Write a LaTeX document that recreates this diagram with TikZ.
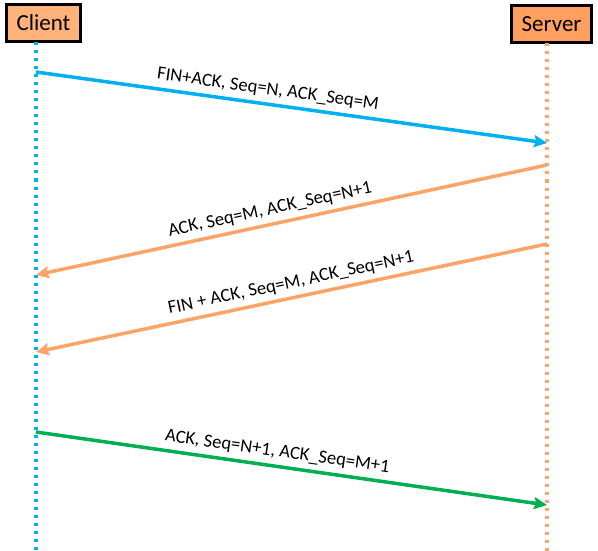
\documentclass[tikz,border=0pt]{standalone}
\usepackage{fontspec}
\setmainfont{Carlito}
\usetikzlibrary{arrows.meta}
\definecolor{cblue}{RGB}{0,176,240}
\definecolor{corange}{RGB}{255,164,102}
\definecolor{cgreen}{RGB}{0,176,80}
\definecolor{clientfill}{RGB}{255,178,122}
\definecolor{serverfill}{RGB}{255,160,96}
\tikzset{
  actor/.style={draw=black, line width=2.5pt, minimum width=74pt, minimum height=37pt, inner sep=0pt, font=\fontsize{23}{26}\selectfont},
  lifeline/.style={line width=3.2pt, dash pattern=on 3pt off 5pt},
  msg/.style={line width=3.5pt, -{Stealth[length=13pt,width=12pt,inset=2pt]}},
  lbl/.style={sloped, above, inner sep=5pt, text=black, font=\fontsize{18.6}{20}\selectfont}
}
\begin{document}
\begin{tikzpicture}[x=1pt,y=-1pt]
\useasboundingbox (0,0) rectangle (598,551);
\node[actor, fill=clientfill] (client) at (43.5,23) {Client};
\node[actor, fill=serverfill, minimum width=80pt] (server) at (551.5,24) {Server};
\coordinate (ctop) at (36,42.5);
\coordinate (cbot) at (36,551);
\coordinate (stop) at (547,43.5);
\coordinate (sbot) at (547,551);
\draw[lifeline, cblue] (ctop) -- (cbot);
\draw[lifeline, corange] (stop) -- (sbot);
\coordinate (c1) at (36,72);
\coordinate (s1) at (547,143);
\coordinate (s2) at (547,165);
\coordinate (c2) at (36,275);
\coordinate (s3) at (547,244);
\coordinate (c3) at (36,352);
\coordinate (c4) at (36,432);
\coordinate (s4) at (547,505);
\draw[msg, cblue] (c1) -- node[lbl, pos=0.45] {FIN+ACK, Seq=N, ACK\_Seq=M} (s1);
\draw[msg, corange] (s2) -- node[lbl, pos=0.536] {ACK, Seq=M, ACK\_Seq=N+1} (c2);
\draw[msg, corange] (s3) -- node[lbl, pos=0.495] {FIN + ACK, Seq=M, ACK\_Seq=N+1} (c3);
\draw[msg, cgreen] (c4) -- node[lbl, pos=0.468] {ACK, Seq=N+1, ACK\_Seq=M+1} (s4);
\end{tikzpicture}
\end{document}
